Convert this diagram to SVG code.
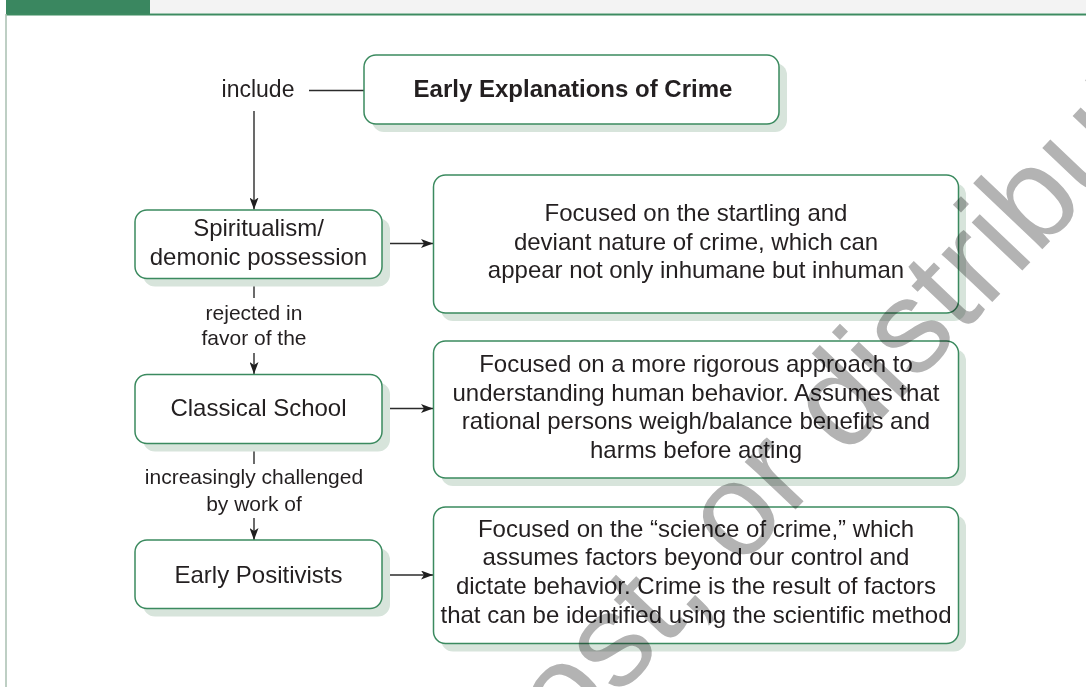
<svg xmlns="http://www.w3.org/2000/svg" width="1086" height="687" viewBox="0 0 1086 687">
  <style>
    .frame-band { fill: #f3f3f3; }
    .frame-tab { fill: #3a8760; }
    .frame-rule { stroke: #3d8b61; stroke-width: 2; fill: none; }
    .frame-side { stroke: #a9bfb1; stroke-width: 1.5; fill: none; }
    .shadow { fill: #d7e4db; }
    .box { fill: #ffffff; stroke: #3b8a5f; stroke-width: 1.5; }
    .txt { font-family: "Liberation Sans", Arial, Helvetica, sans-serif; fill: #231f20; text-anchor: middle; }
    .node { font-size: 24px; }
    .title { font-size: 24px; font-weight: bold; }
    .label { font-size: 21px; }
    .lead { font-size: 23px; }
    .conn { stroke: #2b2b2b; stroke-width: 1.4; fill: none; }
    .wm { font-family: "Liberation Sans", Arial, Helvetica, sans-serif; font-size: 132px; fill: #b3b3b3; }
  </style>
  <defs>
    <marker id="arrow" viewBox="0 0 12 9" refX="12" refY="4.5" markerWidth="12" markerHeight="9" markerUnits="userSpaceOnUse" orient="auto">
      <path d="M0,0 L12,4.5 L0,9 L3,4.5 z" fill="#1f1f1f"/>
    </marker>
  </defs>

  <!-- page frame -->
  <g id="frame">
    <rect class="frame-band" x="150" y="0" width="936" height="13"/>
    <rect class="frame-tab" x="6" y="0" width="144" height="14"/>
    <line class="frame-rule" x1="6" y1="14.5" x2="1086" y2="14.5"/>
    <line class="frame-side" x1="6" y1="14" x2="6" y2="687"/>
  </g>

  <!-- connectors -->
  <g id="connectors">
    <line class="conn" x1="309" y1="90.5" x2="364" y2="90.5"/>
    <line class="conn" x1="254" y1="111" x2="254" y2="209.5" marker-end="url(#arrow)"/>
    <line class="conn" x1="254" y1="279" x2="254" y2="298"/>
    <line class="conn" x1="254" y1="353" x2="254" y2="374" marker-end="url(#arrow)"/>
    <line class="conn" x1="254" y1="444" x2="254" y2="464"/>
    <line class="conn" x1="254" y1="518" x2="254" y2="540" marker-end="url(#arrow)"/>
    <line class="conn" x1="382" y1="243.5" x2="433" y2="243.5" marker-end="url(#arrow)"/>
    <line class="conn" x1="382" y1="408.5" x2="433" y2="408.5" marker-end="url(#arrow)"/>
    <line class="conn" x1="382" y1="575" x2="433" y2="575" marker-end="url(#arrow)"/>
  </g>

  <!-- connector labels -->
  <g id="labels">
    <text class="txt lead" x="258" y="97">include</text>
    <text class="txt label" x="254" y="319.5">rejected in</text>
    <text class="txt label" x="254" y="345">favor of the</text>
    <text class="txt label" x="254" y="484">increasingly challenged</text>
    <text class="txt label" x="254" y="510.5">by work of</text>
  </g>

  <g id="title">
    <rect class="shadow" x="372" y="63" width="415" height="69" rx="12"/>
    <rect class="box" x="364" y="55" width="415" height="69" rx="12"/>
    <text class="txt title" x="573" y="97">Early Explanations of Crime</text>
  </g>

  <g id="spiritualism">
    <rect class="shadow" x="143" y="218" width="247" height="68.5" rx="12"/>
    <rect class="box" x="135" y="210" width="247" height="68.5" rx="12"/>
    <text class="txt node" x="258.5" y="235.5">Spiritualism/</text>
    <text class="txt node" x="258.5" y="265">demonic possession</text>
  </g>

  <g id="classical">
    <rect class="shadow" x="143" y="382.5" width="247" height="69" rx="12"/>
    <rect class="box" x="135" y="374.5" width="247" height="69" rx="12"/>
    <text class="txt node" x="258.5" y="416">Classical School</text>
  </g>

  <g id="positivists">
    <rect class="shadow" x="143" y="548" width="247" height="68.5" rx="12"/>
    <rect class="box" x="135" y="540" width="247" height="68.5" rx="12"/>
    <text class="txt node" x="258.5" y="582.5">Early Positivists</text>
  </g>

  <g id="desc-spiritualism">
    <rect class="shadow" x="441" y="183" width="525" height="138" rx="12"/>
    <rect class="box" x="433.5" y="175" width="525" height="138" rx="12"/>
    <text class="txt node" x="696" y="221">Focused on the startling and</text>
    <text class="txt node" x="696" y="249.7">deviant nature of crime, which can</text>
    <text class="txt node" x="696" y="278.4">appear not only inhumane but inhuman</text>
  </g>

  <g id="desc-classical">
    <rect class="shadow" x="441" y="349" width="525" height="137" rx="12"/>
    <rect class="box" x="433.5" y="341" width="525" height="137" rx="12"/>
    <text class="txt node" x="696" y="371.7">Focused on a more rigorous approach to</text>
    <text class="txt node" x="696" y="400.5">understanding human behavior. Assumes that</text>
    <text class="txt node" x="696" y="429.2">rational persons weigh/balance benefits and</text>
    <text class="txt node" x="696" y="458">harms before acting</text>
  </g>

  <g id="desc-positivists">
    <rect class="shadow" x="441" y="515" width="525" height="136.5" rx="12"/>
    <rect class="box" x="433.5" y="507" width="525" height="136.5" rx="12"/>
    <text class="txt node" x="696" y="536.7">Focused on the “science of crime,” which</text>
    <text class="txt node" x="696" y="565.4">assumes factors beyond our control and</text>
    <text class="txt node" x="696" y="594.1">dictate behavior. Crime is the result of factors</text>
    <text class="txt node" x="696" y="622.8">that can be identified using the scientific method</text>
  </g>

  <!-- diagonal rights watermark -->
  <g id="watermark" style="mix-blend-mode: multiply">
    <text class="wm" transform="translate(516.4 803.7) rotate(-46.5)">post, or distribute</text>
  </g>
</svg>
